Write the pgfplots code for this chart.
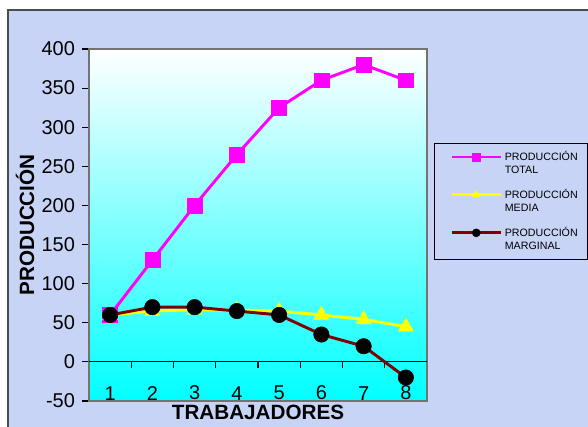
\documentclass[border=0pt]{standalone}
\usepackage{pgfplots}
\pgfplotsset{compat=1.18}
\usepackage{fontspec}
\setmainfont{Liberation Sans}
\definecolor{bgcol}{RGB}{200,212,246}
\definecolor{maroonc}{RGB}{128,0,0}
\definecolor{borderg}{RGB}{115,115,115}
\definecolor{magc}{RGB}{255,0,255}
\definecolor{yelc}{RGB}{255,255,0}
\begin{document}
\begin{tikzpicture}
\useasboundingbox (0,0) rectangle (441pt,320.25pt);
\fill[white] (0,0) rectangle (441pt,320.25pt);
\fill[bgcol] (6pt,0) rectangle (441pt,312.75pt);
\draw[line width=1pt, black!70] (6pt,-2pt) -- (6pt,312.75pt) -- (443pt,312.75pt);
\begin{axis}[
  at={(66.75pt,19.5pt)}, anchor=south west,
  scale only axis, width=253.5pt, height=264pt,
  xmin=0.5, xmax=8.5, ymin=-50, ymax=400,
  xtick={1,2,3,4,5,6,7,8},
  ytick={-50,0,50,100,150,200,250,300,350,400},
  xtick style={draw=none},
  ytick style={black, line width=0.8pt},
  ytick pos=left,
  tick align=outside,
  major tick length=5pt,
  axis line style={borderg, line width=1.2pt},
  axis background/.style={top color=white, bottom color=cyan},
  /pgf/number format/assume math mode=true,
  tick label style={font=\fontsize{15}{18}\selectfont},
  yticklabel style={xshift=-2pt},
  xticklabel style={anchor=south, inner sep=0pt, yshift=5.5pt},
  xlabel={TRABAJADORES},
  ylabel={PRODUCCIÓN},
  xlabel style={at={(axis description cs:0.5,0)}, anchor=north, inner sep=0pt, yshift=-2.5pt, font=\fontsize{15.5}{18}\selectfont\bfseries},
  ylabel style={at={(axis description cs:-0.189,0.5)}, anchor=center, font=\fontsize{15.5}{18}\selectfont\bfseries},
  legend style={at={(1.0207,0.733)}, anchor=north west, draw=black, line width=0.6pt, fill=bgcol,
    font=\fontsize{8}{10}\selectfont, inner xsep=5pt, inner ysep=4pt, row sep=6pt,
    cells={anchor=west, align=left}},
  legend cell align=left,
  legend image code/.code={\path[draw=none] (-8pt,0pt) -- (0pt,0pt);\draw[yshift=5pt, mark repeat=2, mark phase=2, mark size=3pt] plot coordinates {(0pt,0pt)(18.4pt,0pt)(36.75pt,0pt)};},
]
\draw[black, line width=0.8pt] (axis cs:0.5,0) -- (axis cs:8.5,0);
\pgfplotsinvokeforeach{1.5,2.5,3.5,4.5,5.5,6.5,7.5}{\draw[black, line width=0.8pt] (axis cs:#1,0) -- ([yshift=-4.5pt]axis cs:#1,0);}
\addplot[magc, line width=2.2pt, mark=square*, mark size=5.6pt, mark options={fill=magc, draw=magc, line width=0.4pt}]
  coordinates {(1,60)(2,130)(3,200)(4,265)(5,325)(6,360)(7,380)(8,360)};
\addlegendentry{PRODUCCIÓN\\TOTAL}
\addplot[yelc, line width=2.2pt, mark=triangle*, mark size=6.5pt, mark options={fill=yelc, draw=yelc, line width=0.4pt}]
  coordinates {(1,60)(2,65)(3,66.67)(4,66.25)(5,65)(6,60)(7,54.29)(8,45)};
\addlegendentry{PRODUCCIÓN\\MEDIA}
\addplot[maroonc, line width=2.2pt, mark=*, mark size=5.8pt, mark options={fill=black, draw=black, line width=0.4pt}]
  coordinates {(1,60)(2,70)(3,70)(4,65)(5,60)(6,35)(7,20)(8,-20)};
\addlegendentry{PRODUCCIÓN\\MARGINAL}
\end{axis}
\end{tikzpicture}
\end{document}
